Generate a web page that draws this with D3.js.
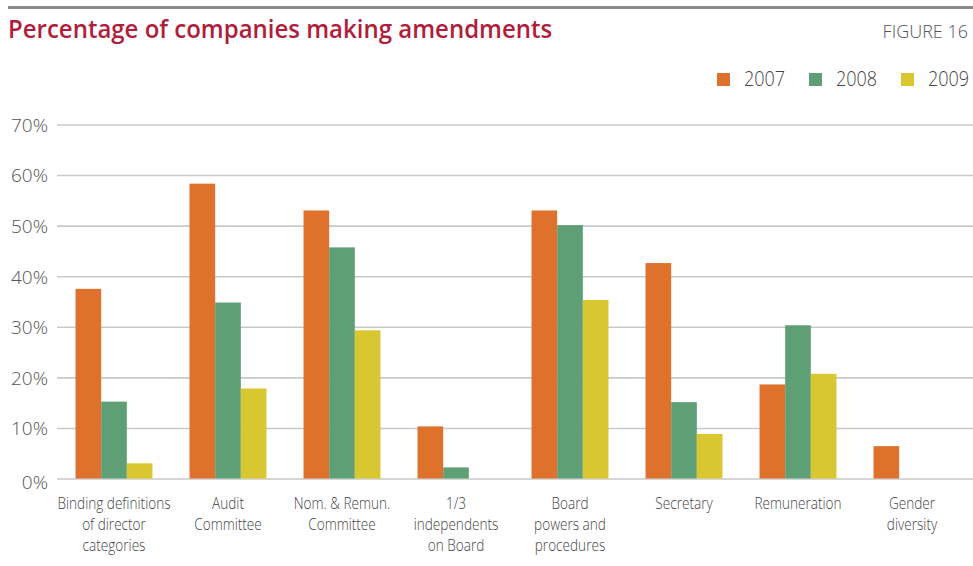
<!DOCTYPE html>
<html>
<head>
<meta charset="utf-8">
<script src="https://cdn.jsdelivr.net/npm/d3@7/dist/d3.min.js"></script>
<style>
  html, body { margin: 0; padding: 0; background: #fff; }
  svg { display: block; }
  text { font-family: "Open Sans", "Noto Sans", sans-serif; }
</style>
</head>
<body>
<svg id="chart" width="973" height="566"></svg>
<script>
// Categories of amendments (multi-line axis labels split on "|")
const categories = [
  "Binding definitions|of director|categories",
  "Audit|Committee",
  "Nom. & Remun.|Committee",
  "1/3|independents|on Board",
  "Board|powers and|procedures",
  "Secretary",
  "Remuneration",
  "Gender|diversity"
];
const years = ["2007", "2008", "2009"];
// Percentage of companies, per year (null = no bar)
const values2007 = [37.5, 58.3, 53.0, 10.3, 53.0, 42.6, 18.6, 6.4];
const values2008 = [15.2, 34.8, 45.7, 2.2, 50.1, 15.1, 30.3, null];
const values2009 = [3.0, 17.8, 29.3, null, 35.3, 8.8, 20.7, null];
const yTicks = [0, 10, 20, 30, 40, 50, 60, 70];
const colors = ["#DE712C", "#5E9F75", "#D9C731"];

const series = [values2007, values2008, values2009];
const svg = d3.select("#chart");

// Header rule and titles
svg.append("line")
  .attr("x1", 8).attr("x2", 973).attr("y1", 7.5).attr("y2", 7.5)
  .attr("stroke", "#8a8a8a").attr("stroke-width", 3);

svg.append("text")
  .attr("transform", "translate(8,38) scale(0.96,1)")
  .attr("fill", "#B01E3C")
  .attr("font-size", 25).attr("font-weight", 600)
  .text("Percentage of companies making amendments");

svg.append("text")
  .attr("x", 968).attr("y", 38)
  .attr("text-anchor", "end")
  .attr("fill", "#555").attr("font-size", 18).attr("font-weight", 300)
  .text("FIGURE 16");

// Scales
const x0 = d3.scaleBand()
  .domain(d3.range(categories.length))
  .range([57, 969])
  .paddingInner(0.325)
  .paddingOuter(0.1625);
const x1 = d3.scaleBand().domain(d3.range(years.length)).range([0, x0.bandwidth()]);
const y = d3.scaleLinear().domain([0, 70]).range([478.5, 124.5]);

// Gridlines and y labels
const yAxis = svg.append("g").attr("transform", "translate(57,0)")
  .call(d3.axisRight(y).tickValues(yTicks).tickSize(973 - 57).tickFormat(d => d + "%"));
yAxis.select(".domain").remove();
yAxis.selectAll(".tick line").attr("stroke", "#c9c9c9").attr("stroke-width", 1.6);
yAxis.selectAll(".tick text")
  .attr("x", -9).attr("dy", "0.36em")
  .attr("text-anchor", "end")
  .attr("fill", "#555").attr("font-size", 19).attr("font-weight", 300)
  .attr("font-family", "'Open Sans', sans-serif");
yAxis.selectAll(".tick").filter(d => d === 0).select("text").attr("dy", "0.55em");

// Bars
const groups = svg.append("g").selectAll("g")
  .data(categories.map((c, i) => i))
  .join("g")
  .attr("transform", i => `translate(${x0(i)},0)`);
groups.selectAll("rect")
  .data(i => series.map((s, k) => ({ k, v: s[i] })).filter(d => d.v != null))
  .join("rect")
  .attr("x", d => x1(d.k))
  .attr("width", x1.bandwidth())
  .attr("y", d => y(d.v))
  .attr("height", d => y(0) - y(d.v))
  .attr("fill", d => colors[d.k]);

// Category labels
const labels = svg.append("g").selectAll("text")
  .data(categories.map((c, i) => ({ c, i })))
  .join("text")
  .attr("text-anchor", "middle")
  .attr("fill", "#444").attr("font-size", 17).attr("font-weight", 300)
  .attr("transform", d => `translate(${x0(d.i) + x0.bandwidth() / 2},509) scale(0.8,1)`);
labels.selectAll("tspan")
  .data(d => d.c.split("|"))
  .join("tspan")
  .attr("x", 0)
  .attr("dy", (d, j) => j === 0 ? 0 : 21)
  .text(d => d);

// Legend
const legend = svg.append("g").selectAll("g")
  .data(years)
  .join("g")
  .attr("transform", (d, i) => `translate(${[717, 809, 901][i]},73)`);
legend.append("rect").attr("width", 13).attr("height", 13).attr("fill", (d, i) => colors[i]);
legend.append("text")
  .attr("transform", "translate(27,13) scale(0.9,1)")
  .attr("fill", "#444").attr("font-size", 20).attr("font-weight", 300)
  .text(d => d);
</script>
</body>
</html>
